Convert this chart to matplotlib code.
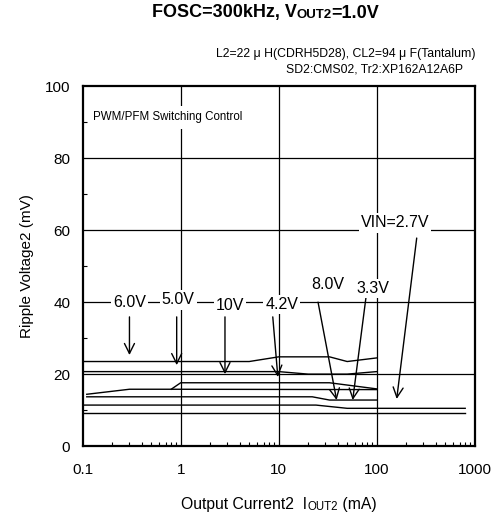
import matplotlib.pyplot as plt
from matplotlib.offsetbox import TextArea, HPacker, AnnotationBbox
from matplotlib.ticker import FixedLocator, NullFormatter

plt.rcParams['font.family'] = ['Liberation Sans', 'DejaVu Sans']

# output current (mA) and ripple voltage (mV), one curve per VIN
x_a = [0.1, 5, 10, 33, 50, 100]
y_a = [23.6, 23.6, 24.9, 24.9, 23.6, 24.6]
x_b = [0.1, 10, 20, 50, 100]
y_b = [20.8, 20.8, 20.1, 20.1, 20.8]
x_c = [0.8, 1, 33, 100]
y_c = [15.9, 17.7, 17.7, 16.0]
x_d = [0.11, 0.3, 0.8, 100]
y_d = [14.5, 15.9, 15.9, 15.8]
x_e = [0.11, 22, 33, 100]
y_e = [13.8, 13.8, 12.9, 12.9]
x_f = [0.1, 24, 50, 800]
y_f = [11.5, 11.5, 10.6, 10.6]
x_g = [0.1, 800]
y_g = [9.4, 9.4]
curves = [(x_a, y_a), (x_b, y_b), (x_c, y_c), (x_d, y_d),
          (x_e, y_e), (x_f, y_f), (x_g, y_g)]

# labels: text, text position, arrow start, arrow end
labels = ['6.0V', '5.0V', '10V', '4.2V', '8.0V', '3.3V', 'VIN=2.7V']
label_xy = [(0.30, 39.9), (0.94, 40.7), (3.2, 39.3), (10.8, 39.5),
            (31.8, 45.1), (91.6, 43.8), (154, 62.1)]
arrow_from = [(0.30, 36), (0.91, 36), (2.83, 36), (8.7, 36),
              (25.2, 40.1), (77.8, 41.5), (256, 57.9)]
arrow_to = [(0.30, 25.4), (0.91, 22.6), (2.83, 20.1), (9.8, 19.3),
            (39, 12.9), (56.9, 12.9), (160, 13.2)]

xticks = [0.1, 1, 10, 100, 1000]
xticklabels = ['0.1', '1', '10', '100', '1000']
yticks = [0, 20, 40, 60, 80, 100]

fig = plt.figure(figsize=(5, 5.17), dpi=100)
ax = fig.add_axes([0.1654, 0.1364, 0.784, 0.6963])

ax.set_xscale('log')
ax.set_xlim(0.1, 1000)
ax.set_ylim(0, 100)

for xv in [1, 10, 100]:
    ax.axvline(xv, color='black', lw=0.9, zorder=1)
for yv in [20, 40, 60, 80]:
    ax.axhline(yv, color='black', lw=0.9, zorder=1)

for xs, ys in curves:
    ax.plot(xs, ys, color='black', lw=1.0, zorder=2)

for t, p, a, b in zip(labels, label_xy, arrow_from, arrow_to):
    ax.annotate('', xy=b, xytext=a,
                arrowprops=dict(arrowstyle='->', color='black', lw=1.0,
                                shrinkA=0, shrinkB=0,
                                mutation_scale=18), zorder=4)
    ax.text(p[0], p[1], t, ha='center', va='center', fontsize=11.5,
            zorder=5, bbox=dict(facecolor='white', edgecolor='none', pad=1.5))

ax.text(0.128, 91.5, 'PWM/PFM Switching Control', fontsize=8.3, va='center',
        ha='left', zorder=5,
        bbox=dict(facecolor='white', edgecolor='none', pad=4))

ax.set_xticks(xticks)
ax.set_xticklabels(xticklabels)
ax.xaxis.set_minor_locator(FixedLocator(
    [m * d for d in [0.1, 1, 10, 100] for m in range(2, 10)]))
ax.xaxis.set_minor_formatter(NullFormatter())
ax.set_yticks(yticks)
ax.yaxis.set_minor_locator(FixedLocator([10, 30, 50, 70, 90]))
ax.tick_params(which='major', length=0, labelsize=11)
ax.tick_params(axis='x', which='major', pad=12)
ax.tick_params(axis='y', which='major', pad=9)
ax.tick_params(which='minor', direction='in', length=3, width=0.8)
for s in ax.spines.values():
    s.set_linewidth(1.6)

ax.set_ylabel('Ripple Voltage2 (mV)', fontsize=11, labelpad=8)


def packed(parts, xy, weight='normal'):
    kids = [TextArea(s, textprops=dict(fontsize=fs, fontweight=weight))
            for s, fs in parts]
    box = HPacker(children=kids, align='baseline', pad=0, sep=0)
    ab = AnnotationBbox(box, xy, xycoords='figure fraction', frameon=False,
                        box_alignment=(0.5, 0.5))
    fig.add_artist(ab)


packed([('FOSC=300kHz, V', 13), ('OUT2', 9.5), ('=1.0V', 13)],
       (0.531, 1 - 13 / 517), weight='bold')
packed([('Output Current2  I', 11.3), ('OUT2', 8.3), (' (mA)', 11.3)],
       (0.558, 1 - 505 / 517))

fig.text(0.95, 1 - 54 / 517, 'L2=22 μ H(CDRH5D28), CL2=94 μ F(Tantalum)',
         ha='right', va='center', fontsize=8.8)
fig.text(0.926, 1 - 70 / 517, 'SD2:CMS02, Tr2:XP162A12A6P',
         ha='right', va='center', fontsize=8.8)

fig.savefig('out.png', dpi=100)
